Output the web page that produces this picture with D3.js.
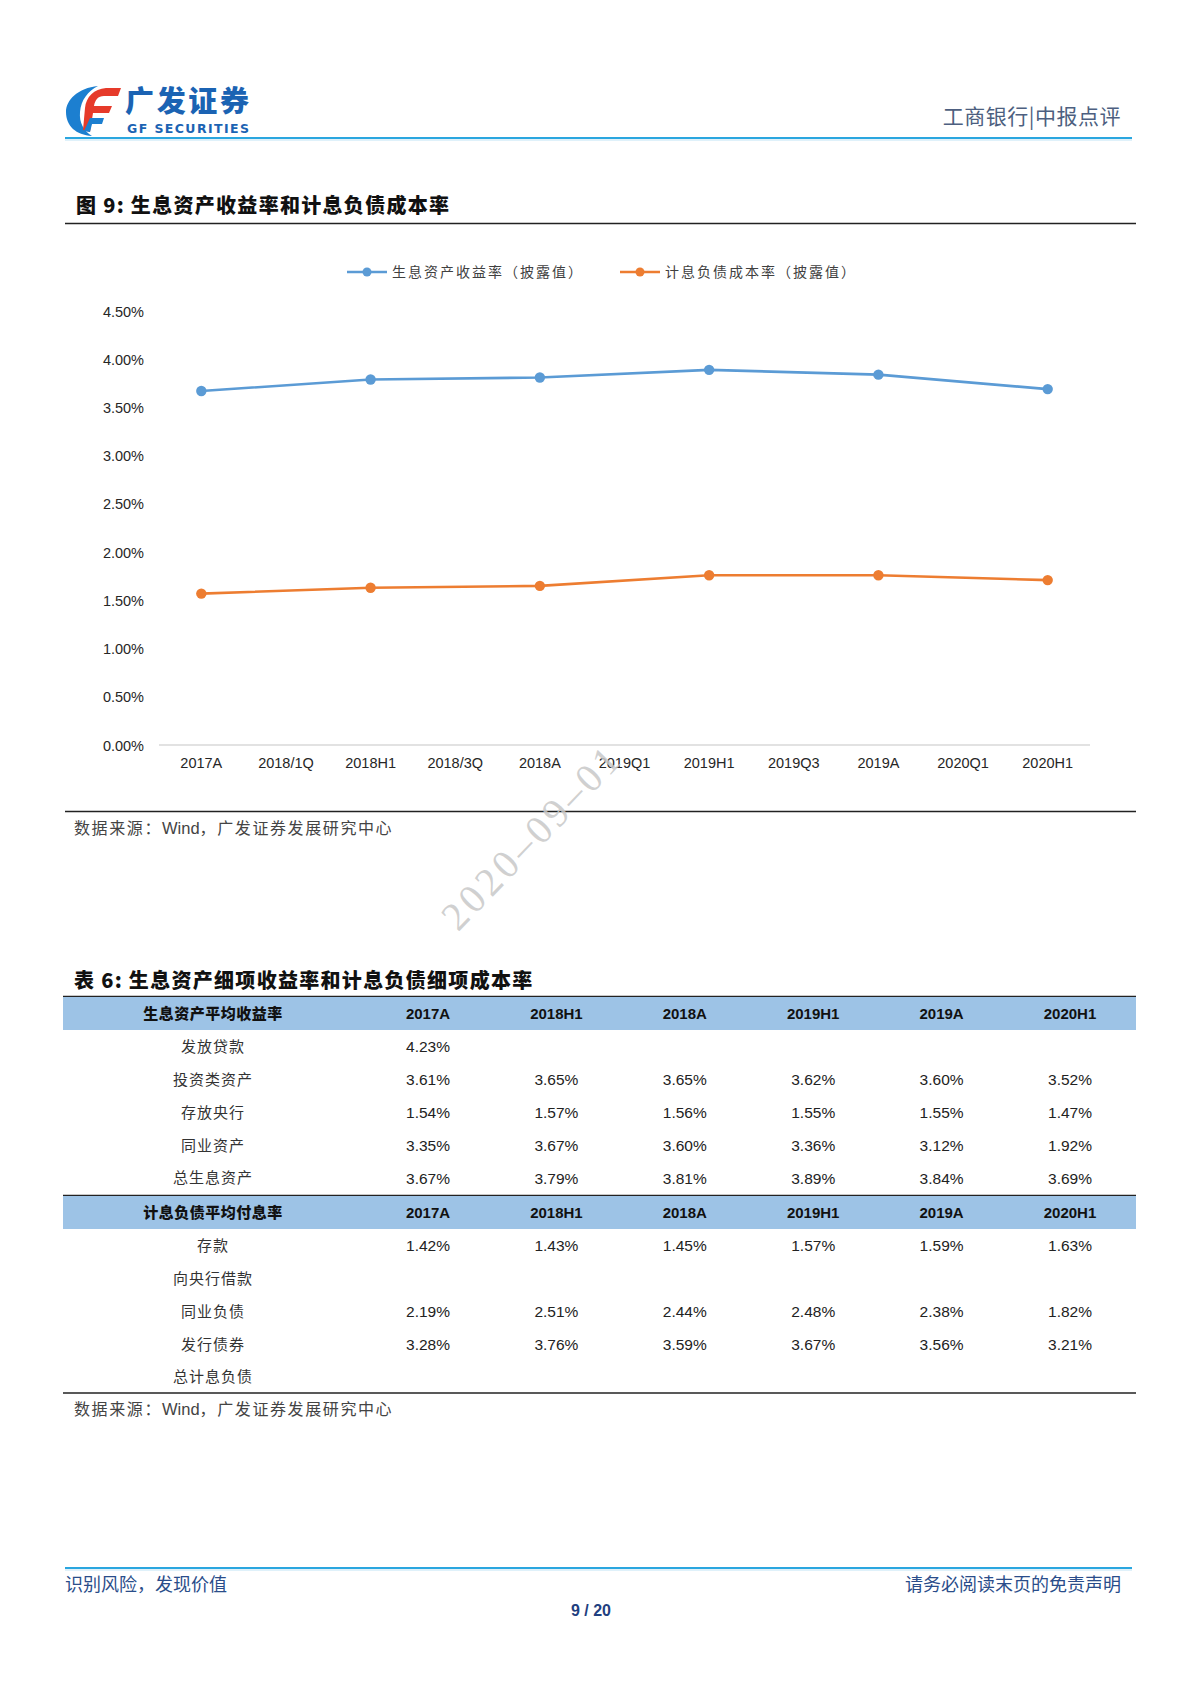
<!DOCTYPE html>
<html>
<head>
<meta charset="utf-8">
<script src="https://cdn.jsdelivr.net/npm/d3@7"></script>
<style>
  html, body { margin: 0; padding: 0; background: #fff; }
  svg { display: block; }
</style>
</head>
<body>
<svg id="page" width="1200" height="1698"></svg>
<script>
// ---------- DATA ----------
const categories = ["2017A","2018/1Q","2018H1","2018/3Q","2018A","2019Q1","2019H1","2019Q3","2019A","2020Q1","2020H1"];
const assetYield = [3.67, null, 3.79, null, 3.81, null, 3.89, null, 3.84, null, 3.69];
const liabilityCost = [1.57, null, 1.63, null, 1.65, null, 1.76, null, 1.76, null, 1.71];
const yTicks = [0, 0.5, 1.0, 1.5, 2.0, 2.5, 3.0, 3.5, 4.0, 4.5];
const seriesNames = ["生息资产收益率（披露值）", "计息负债成本率（披露值）"];

const tableCols = ["2017A","2018H1","2018A","2019H1","2019A","2020H1"];
const assetHeader = "生息资产平均收益率";
const assetRows = ["发放贷款","投资类资产","存放央行","同业资产","总生息资产"];
const assetVals = [
  ["4.23%","","","","",""],
  ["3.61%","3.65%","3.65%","3.62%","3.60%","3.52%"],
  ["1.54%","1.57%","1.56%","1.55%","1.55%","1.47%"],
  ["3.35%","3.67%","3.60%","3.36%","3.12%","1.92%"],
  ["3.67%","3.79%","3.81%","3.89%","3.84%","3.69%"]
];
const liabHeader = "计息负债平均付息率";
const liabRows = ["存款","向央行借款","同业负债","发行债券","总计息负债"];
const liabVals = [
  ["1.42%","1.43%","1.45%","1.57%","1.59%","1.63%"],
  ["","","","","",""],
  ["2.19%","2.51%","2.44%","2.48%","2.38%","1.82%"],
  ["3.28%","3.76%","3.59%","3.67%","3.56%","3.21%"],
  ["","","","","",""]
];

// ---------- SETUP ----------
const svg = d3.select("#page");
const CJK = "'Noto Sans CJK SC', 'Noto Sans', sans-serif";
const LAT = "'Liberation Sans', Arial, sans-serif";
const blue = "#5B9BD5", orange = "#ED7D31";

// ---------- HEADER ----------
const logo = svg.append("g");
logo.append("path")
  .attr("d", "M98,86 C78,88 66,100 66,112 C66,126 76,135 92,136 C84,131 79,123 80,112 C81,100 88,91 98,86 Z")
  .attr("fill", "#1c7fd0");
logo.append("path")
  .attr("d", "M85,108 C86,97 94,89 106,88 L121,88 L118,96 L104,96 C98,96 95,100 94,106 L112,106 L109,113 L93,113 L90,132 L83,130 Z")
  .attr("fill", "#e63a2a");
logo.append("path")
  .attr("d", "M90,118 L104,118 L102,124 L92,124 L90,132 L84,131 Z")
  .attr("fill", "#1c7fd0");
logo.append("text").attr("x", 125).attr("y", 112)
  .attr("font-family", CJK).attr("font-weight", 900).attr("font-size", 29)
  .attr("fill", "#1b63b3").attr("textLength", 124).text("广发证券");
logo.append("text").attr("x", 127).attr("y", 133)
  .attr("font-family", "'DejaVu Sans', sans-serif").attr("font-weight", 700).attr("font-size", 12.5)
  .attr("fill", "#1b63b3").attr("textLength", 122).text("GF SECURITIES");

svg.append("text").attr("x", 1121).attr("y", 124).attr("text-anchor", "end")
  .attr("font-family", CJK).attr("font-size", 21).attr("fill", "#4d5f80")
  .attr("letter-spacing", "0.5px")
  .text("工商银行|中报点评");
svg.append("line").attr("x1", 65).attr("x2", 1132).attr("y1", 138).attr("y2", 138)
  .attr("stroke", "#2aa6df").attr("stroke-width", 2);
svg.append("line").attr("x1", 65).attr("x2", 1132).attr("y1", 140).attr("y2", 140)
  .attr("stroke", "#bfe3f5").attr("stroke-width", 1);

// ---------- FIGURE TITLE ----------
svg.append("text").attr("x", 76).attr("y", 213)
  .attr("font-family", CJK).attr("font-weight", 900).attr("font-size", 20).attr("fill", "#111")
  .attr("letter-spacing", "1.3px")
  .text("图 9: 生息资产收益率和计息负债成本率");
svg.append("line").attr("x1", 65).attr("x2", 1136).attr("y1", 223.5).attr("y2", 223.5)
  .attr("stroke", "#222").attr("stroke-width", 1.5);

// ---------- CHART ----------
const x = d3.scaleBand().domain(categories).range([159, 1090]);
const y = d3.scaleLinear().domain([0, 4.5]).range([745, 311]);

svg.append("line").attr("x1", 159).attr("x2", 1090).attr("y1", y(0)).attr("y2", y(0))
  .attr("stroke", "#d9d9d9").attr("stroke-width", 1.5);

const yAxis = d3.axisLeft(y).tickValues(yTicks).tickSize(0).tickPadding(0)
  .tickFormat(d => d3.format(".2f")(d) + "%");
const yg = svg.append("g").attr("transform", "translate(144,0)").call(yAxis);
yg.select(".domain").remove();
yg.selectAll("text").attr("font-family", LAT).attr("font-size", 14.5).attr("fill", "#262626")
  .attr("dy", "0.35em");

const xAxis = d3.axisBottom(x).tickSize(0).tickPadding(0);
const xg = svg.append("g").attr("transform", `translate(0,${y(0)})`).call(xAxis);
xg.select(".domain").remove();
xg.selectAll("text").attr("font-family", LAT).attr("font-size", 14.5).attr("fill", "#262626")
  .attr("y", 18).attr("dy", "0.35em");

const cx = c => x(c) + x.bandwidth() / 2;
function drawSeries(vals, color) {
  const pts = categories.map((c, i) => ({ c, v: vals[i] })).filter(d => d.v != null);
  const line = d3.line().x(d => cx(d.c)).y(d => y(d.v));
  svg.append("path").datum(pts).attr("d", line)
    .attr("fill", "none").attr("stroke", color).attr("stroke-width", 2.6).attr("stroke-linejoin", "round");
  svg.selectAll(null).data(pts).enter().append("circle")
    .attr("cx", d => cx(d.c)).attr("cy", d => y(d.v)).attr("r", 5.2).attr("fill", color);
}
drawSeries(assetYield, blue);
drawSeries(liabilityCost, orange);

const legend = [{ name: seriesNames[0], color: blue, x: 347 }, { name: seriesNames[1], color: orange, x: 620 }];
legend.forEach(l => {
  const g = svg.append("g");
  g.append("line").attr("x1", l.x).attr("x2", l.x + 40).attr("y1", 272).attr("y2", 272)
    .attr("stroke", l.color).attr("stroke-width", 2.6);
  g.append("circle").attr("cx", l.x + 20).attr("cy", 272).attr("r", 4.5).attr("fill", l.color);
  g.append("text").attr("x", l.x + 45).attr("y", 277)
    .attr("font-family", CJK).attr("font-size", 14).attr("fill", "#404040")
    .attr("letter-spacing", "2px").text(l.name);
});

function sourceText(yPos) {
  const t = svg.append("text").attr("x", 74).attr("y", yPos)
    .attr("font-family", CJK).attr("font-size", 16).attr("fill", "#444");
  t.append("tspan").attr("letter-spacing", "1.6px").text("数据来源：");
  t.append("tspan").attr("font-family", LAT).attr("font-size", 16.5).text("Wind");
  t.append("tspan").attr("letter-spacing", "1.6px").text("，广发证券发展研究中心");
}

svg.append("line").attr("x1", 65).attr("x2", 1136).attr("y1", 811.5).attr("y2", 811.5)
  .attr("stroke", "#222").attr("stroke-width", 1.5);
sourceText(834);

// ---------- TABLE ----------
svg.append("text").attr("x", 74).attr("y", 988)
  .attr("font-family", CJK).attr("font-weight", 900).attr("font-size", 20).attr("fill", "#111")
  .attr("letter-spacing", "1.3px")
  .text("表 6: 生息资产细项收益率和计息负债细项成本率");

const colCenter = c => c === "label" ? 213 : 428 + tableCols.indexOf(c) * 128.4;

function drawBlock(top, header, rows, vals) {
  svg.append("line").attr("x1", 63).attr("x2", 1136).attr("y1", top - 0.5).attr("y2", top - 0.5)
    .attr("stroke", "#222").attr("stroke-width", 1.5);
  svg.append("rect").attr("x", 63).attr("y", top).attr("width", 1073).attr("height", 33)
    .attr("fill", "#9DC3E6");
  svg.append("text").attr("x", colCenter("label")).attr("y", top + 17).attr("dy", "0.35em")
    .attr("text-anchor", "middle").attr("font-family", CJK).attr("font-weight", 900)
    .attr("font-size", 15).attr("letter-spacing", "0.5px").attr("fill", "#111").text(header);
  tableCols.forEach(c => {
    svg.append("text").attr("x", colCenter(c)).attr("y", top + 17).attr("dy", "0.35em")
      .attr("text-anchor", "middle").attr("font-family", LAT).attr("font-weight", 700)
      .attr("font-size", 15).attr("fill", "#111").text(c);
  });
  rows.forEach((r, i) => {
    const ry = top + 50 + i * 32.8;
    svg.append("text").attr("x", colCenter("label")).attr("y", ry).attr("dy", "0.35em")
      .attr("text-anchor", "middle").attr("font-family", CJK).attr("font-size", 15)
      .attr("letter-spacing", "1px").attr("fill", "#333").text(r);
    vals[i].forEach((v, j) => {
      if (!v) return;
      svg.append("text").attr("x", colCenter(tableCols[j])).attr("y", ry).attr("dy", "0.35em")
        .attr("text-anchor", "middle").attr("font-family", LAT).attr("font-size", 15.5)
        .attr("fill", "#222").text(v);
    });
  });
}
drawBlock(997, assetHeader, assetRows, assetVals);
drawBlock(1196, liabHeader, liabRows, liabVals);
svg.append("line").attr("x1", 63).attr("x2", 1136).attr("y1", 1393).attr("y2", 1393)
  .attr("stroke", "#222").attr("stroke-width", 1.5);
sourceText(1415);

// ---------- WATERMARK ----------
svg.append("text").attr("transform", "translate(530,838) rotate(-46)")
  .attr("text-anchor", "middle").attr("dy", "0.35em")
  .attr("font-family", "'Liberation Serif', 'DejaVu Serif', serif").attr("font-size", 40)
  .attr("fill", "#c8c8c8").attr("fill-opacity", 0.85).attr("textLength", 236)
  .text("2020–09–01");

// ---------- FOOTER ----------
svg.append("line").attr("x1", 65).attr("x2", 1132).attr("y1", 1568).attr("y2", 1568)
  .attr("stroke", "#2aa6df").attr("stroke-width", 2);
svg.append("line").attr("x1", 65).attr("x2", 1132).attr("y1", 1570).attr("y2", 1570)
  .attr("stroke", "#bfe3f5").attr("stroke-width", 1);
svg.append("text").attr("x", 65).attr("y", 1591)
  .attr("font-family", CJK).attr("font-size", 18).attr("fill", "#2a4d8a")
  .text("识别风险，发现价值");
svg.append("text").attr("x", 1121).attr("y", 1591).attr("text-anchor", "end")
  .attr("font-family", CJK).attr("font-size", 18).attr("fill", "#2a4d8a")
  .text("请务必阅读末页的免责声明");
svg.append("text").attr("x", 591).attr("y", 1616).attr("text-anchor", "middle")
  .attr("font-family", LAT).attr("font-weight", 700).attr("font-size", 16).attr("fill", "#1f3f80")
  .text("9 / 20");
</script>
</body>
</html>
